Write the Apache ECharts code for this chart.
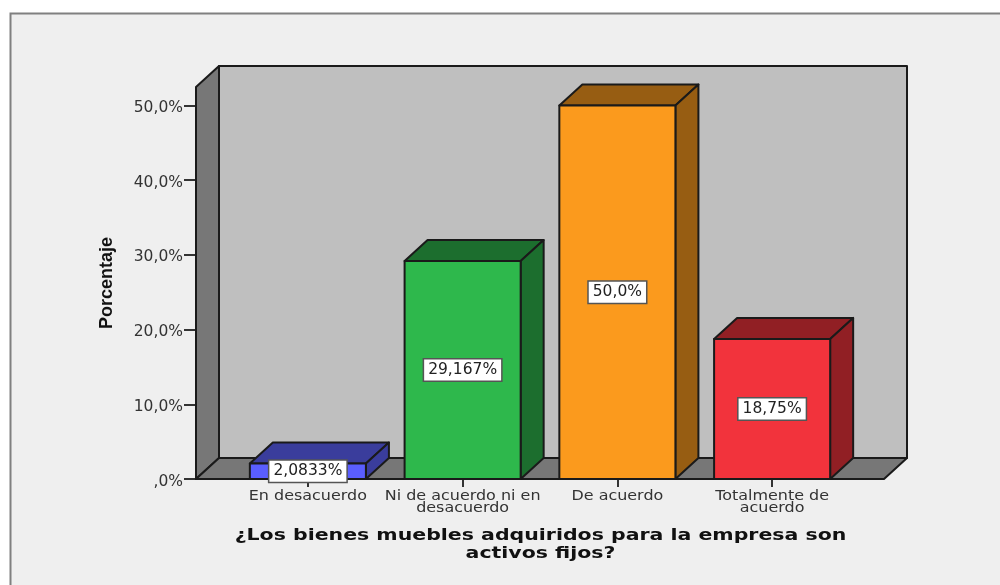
<!DOCTYPE html>
<html>
<head>
<meta charset="utf-8">
<style>html,body{margin:0;padding:0;background:#fff}#c{width:1000px;height:585px}</style>
<script src="https://cdn.jsdelivr.net/npm/echarts@6/dist/echarts.min.js"></script>
</head>
<body>
<div id="c"></div>
<script>
var categories = ['En desacuerdo', 'Ni de acuerdo ni en\ndesacuerdo', 'De acuerdo', 'Totalmente de\nacuerdo'];
var values = [2.0833, 29.167, 50, 18.75];
var valueLabels = ['2,0833%', '29,167%', '50,0%', '18,75%'];
var yTicks = [0, 10, 20, 30, 40, 50];
var frontColors = ['#5a5eff', '#2eb84c', '#fb9a1d', '#f2333c'];
var depthColors = ['#3a3d9c', '#1c6e2e', '#975d12', '#911f24'];
var xTitle = '¿Los bienes muebles adquiridos para la empresa son\nactivos fijos?';
var yTitle = 'Porcentaje';

var DX = 23, DY = -21, PAD = 34.5, EDGE = '#1a1a1a';
var chart = echarts.init(document.getElementById('c'), null, {renderer: 'canvas'});

function poly(points, fill, w) {
  return {type: 'polygon', shape: {points: points}, style: {fill: fill, stroke: EDGE, lineWidth: w || 2, lineJoin: 'round'}};
}

chart.setOption({
  animation: false,
  backgroundColor: '#ffffff',
  graphic: [{
    type: 'rect', z: -10, shape: {x: 10.5, y: 13.5, width: 1000, height: 600},
    style: {fill: '#efefef', stroke: '#808080', lineWidth: 2}
  }, {
    type: 'text', z: 20, x: 540.5, y: 527, scaleX: 1.28,
    style: {
      text: xTitle, align: 'center', verticalAlign: 'top',
      font: 'bold 16px "DejaVu Sans"', lineHeight: 18, fill: '#111'
    }
  }],
  grid: {left: 230.5, right: 150.5, top: 87, bottom: 106},
  xAxis: {
    type: 'category', data: categories,
    axisLine: {show: false},
    axisTick: {show: true, alignWithLabel: true, length: 8, lineStyle: {color: '#333', width: 2}},
    axisLabel: {show: false}
  },
  yAxis: {
    type: 'value', min: 0, max: 52.47, offset: PAD,
    splitLine: {show: false},
    axisLine: {show: false},
    axisTick: {show: true, length: 12, customValues: yTicks, lineStyle: {color: '#333', width: 2}},
    axisLabel: {
      margin: 13, fontFamily: 'DejaVu Sans', fontSize: 15.5, color: '#333', customValues: yTicks,
      verticalAlign: 'top', lineHeight: 5,
      formatter: function (v) { return v === 0 ? ',0%' : v + ',0%'; }
    },
    name: yTitle, nameLocation: 'middle', nameGap: 80,
    nameTextStyle: {fontFamily: 'Liberation Sans', fontWeight: 'bold', fontSize: 18, color: '#111'}
  },
  series: [{
    type: 'custom', z: 1, silent: true, clip: false,
    data: [[0, 0]],
    renderItem: function (params) {
      var g = params.coordSys;
      var l = g.x - PAD, r = g.x + g.width + PAD, t = g.y, b = g.y + g.height;
      return {type: 'group', children: [
        poly([[l + DX, t + DY], [r + DX, t + DY], [r + DX, b + DY], [l + DX, b + DY]], '#bfbfbf'),
        poly([[l, t], [l + DX, t + DY], [l + DX, b + DY], [l, b]], '#777777'),
        poly([[l, b], [l + DX, b + DY], [r + DX, b + DY], [r, b]], '#777777')
      ]};
    }
  }, {
    type: 'custom', z: 2, silent: true, clip: false,
    data: values.map(function (v, i) { return [i, v]; }),
    encode: {x: 0, y: 1},
    renderItem: function (params, api) {
      var i = api.value(0), v = api.value(1);
      var p = api.coord([i, v]), o = api.coord([i, 0]);
      var hw = api.size([1, 0])[0] * 0.75 / 2;
      var l = p[0] - hw, r = p[0] + hw, t = p[1], b = o[1];
      return {type: 'group', children: [
        poly([[l, t], [l + DX, t + DY], [r + DX, t + DY], [r, t]], depthColors[i]),
        poly([[r, t], [r + DX, t + DY], [r + DX, b + DY], [r, b]], depthColors[i]),
        poly([[l, t], [r, t], [r, b], [l, b]], frontColors[i]),
        {
          type: 'text', x: p[0], y: b + 11, scaleX: 1.14,
          style: {
            text: categories[i], align: 'center', verticalAlign: 'top',
            font: '14px "DejaVu Sans"', lineHeight: 12, fill: '#333'
          }
        },
        {
          type: 'text', z2: 10, x: p[0], y: (t + b) / 2,
          style: {
            text: valueLabels[i], align: 'center', verticalAlign: 'middle',
            font: '15.5px "DejaVu Sans"', fill: '#222', backgroundColor: '#ffffff',
            borderColor: '#555555', borderWidth: 1.5, padding: [3, 4, 2, 4]
          }
        }
      ]};
    }
  }]
});
</script>
</body>
</html>
